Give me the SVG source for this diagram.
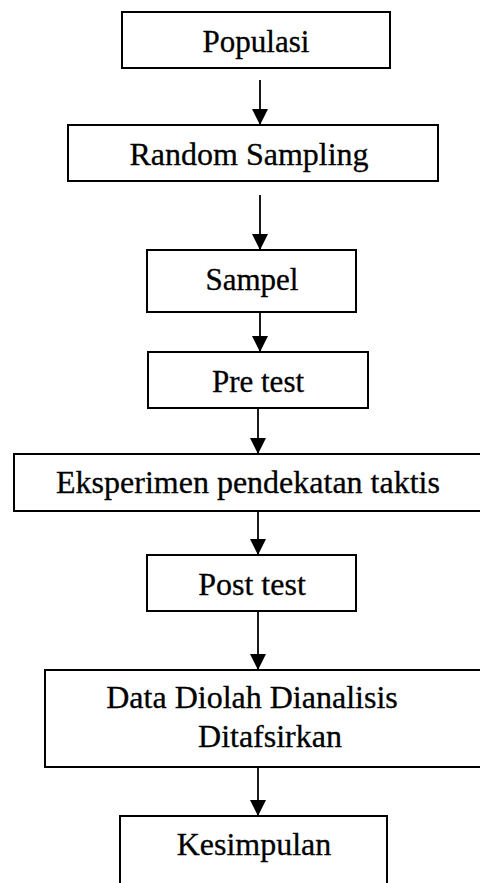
<svg xmlns="http://www.w3.org/2000/svg" width="480" height="883" viewBox="0 0 480 883">
<style>
.box{fill:#fff;stroke:#000;stroke-width:2}
.lbl{font-family:"Liberation Serif","Times New Roman",serif;font-size:32px;fill:#000;stroke:#000;stroke-width:0.3;text-anchor:middle}
.arr{stroke:#000;stroke-width:1.8;fill:none;marker-end:url(#ah)}
</style>
<defs>
<marker id="ah" markerUnits="userSpaceOnUse" markerWidth="16" markerHeight="16" viewBox="0 0 16 16" refX="16" refY="8" orient="auto">
<path d="M0,0 L16,8 L0,16 Z" fill="#000"/>
</marker>
</defs>
<rect width="480" height="883" fill="#fff"/>
<g id="connectors">
<line class="arr" x1="260" y1="80" x2="260" y2="125"/>
<line class="arr" x1="260" y1="195" x2="260" y2="250"/>
<line class="arr" x1="260" y1="312" x2="260" y2="352"/>
<line class="arr" x1="258" y1="408" x2="258" y2="454"/>
<line class="arr" x1="258" y1="511" x2="258" y2="555"/>
<line class="arr" x1="258" y1="611" x2="258" y2="670"/>
<line class="arr" x1="258" y1="767" x2="258" y2="816"/>
</g>
<g id="populasi">
<rect class="box" x="122" y="12" width="268" height="56"/>
<text class="lbl" x="256" y="52" style="font-size:31px">Populasi</text>
</g>
<g id="random-sampling">
<rect class="box" x="68" y="125" width="370" height="56"/>
<text class="lbl" x="249" y="165">Random Sampling</text>
</g>
<g id="sampel">
<rect class="box" x="147" y="250" width="209" height="62"/>
<text class="lbl" x="252" y="290" style="font-size:31px">Sampel</text>
</g>
<g id="pre-test">
<rect class="box" x="148" y="352" width="220" height="56"/>
<text class="lbl" x="258" y="392" style="font-size:31px">Pre test</text>
</g>
<g id="eksperimen">
<rect class="box" x="14" y="454" width="480" height="57"/>
<text class="lbl" x="248" y="493">Eksperimen pendekatan taktis</text>
</g>
<g id="post-test">
<rect class="box" x="147" y="555" width="209" height="56"/>
<text class="lbl" x="252" y="595">Post test</text>
</g>
<g id="data">
<rect class="box" x="45" y="670" width="450" height="97"/>
<text class="lbl" x="252" y="708">Data Diolah Dianalisis</text>
<text class="lbl" x="270" y="747">Ditafsirkan</text>
</g>
<g id="kesimpulan">
<path class="box" d="M120,885 V816 H387 V885"/>
<text class="lbl" x="254" y="855">Kesimpulan</text>
</g>
</svg>
